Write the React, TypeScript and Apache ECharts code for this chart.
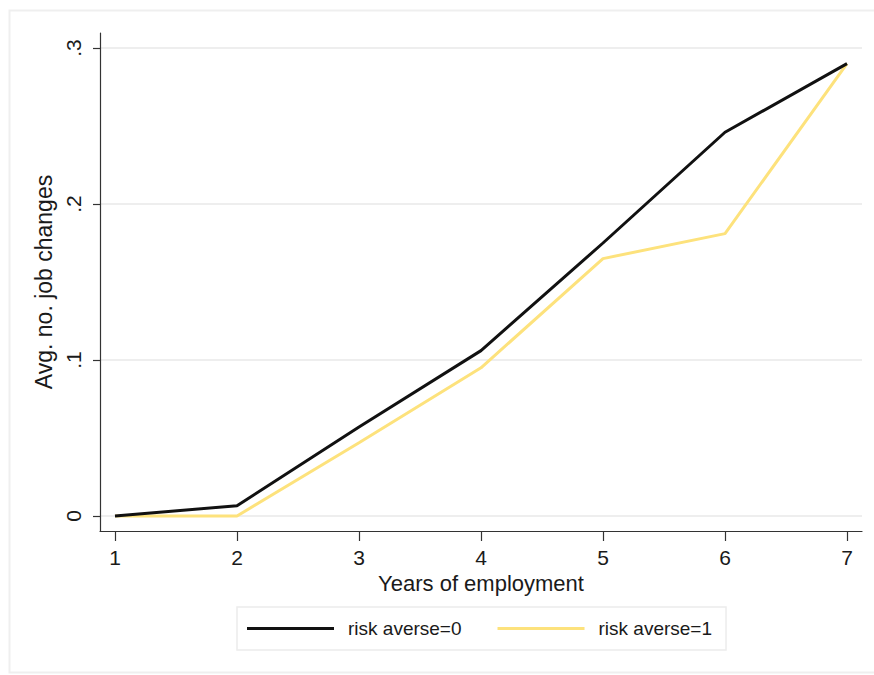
import React, { useEffect, useRef } from "react";
import * as echarts from "echarts";

const years = [1, 2, 3, 4, 5, 6, 7];
const riskAverse0 = [0, 0.0066, 0.057, 0.106, 0.175, 0.246, 0.29];
const riskAverse1 = [0, 0, 0.047, 0.095, 0.165, 0.181, 0.29];
const yTicks = [0, 0.1, 0.2, 0.3];
const xTicks = [1, 2, 3, 4, 5, 6, 7];
const seriesNames = ["risk averse=0", "risk averse=1"];

const FONT = "'Liberation Sans', Arial, sans-serif";

export default function App() {
  const ref = useRef<HTMLDivElement>(null);
  useEffect(() => {
    if (!ref.current) return;
    const chart = echarts.init(ref.current, undefined, { renderer: "svg" });
    const pair = (ys: number[]) => years.map((x, i) => [x, ys[i]]);
    chart.setOption({
      animation: false,
      backgroundColor: "#ffffff",
      textStyle: { fontFamily: FONT },
      graphic: [
        {
          type: "rect",
          shape: { x: 9.5, y: 10.5, width: 880, height: 662 },
          style: { fill: "none", stroke: "#efefef", lineWidth: 2 },
          silent: true,
          z: -10,
        },
      ],
      grid: { left: 100, right: 12, top: 33, bottom: 144, containLabel: false },
      xAxis: {
        type: "value",
        min: 1 - 15 / 122,
        max: 7 + 15 / 122,
        name: "Years of employment",
        nameLocation: "middle",
        nameGap: 40,
        nameTextStyle: { fontSize: 22, color: "#1a1a1a", fontFamily: FONT },
        axisLine: { onZero: false, lineStyle: { color: "#333", width: 1.2 } },
        axisTick: { show: true, length: 10, customValues: xTicks, lineStyle: { color: "#333", width: 1.2 } },
        axisLabel: { customValues: xTicks, fontSize: 21, color: "#1a1a1a", margin: 16, fontFamily: FONT },
        splitLine: { show: false },
      },
      yAxis: {
        type: "value",
        min: -15 / 1560,
        max: 0.3 + 15 / 1560,
        name: "Avg. no. job changes",
        nameLocation: "middle",
        nameGap: 44,
        nameRotate: 90,
        nameTextStyle: { fontSize: 23, color: "#1a1a1a", fontFamily: FONT },
        axisLine: { show: true, onZero: false, lineStyle: { color: "#333", width: 1.2 } },
        axisTick: { show: true, length: 7, customValues: yTicks, lineStyle: { color: "#333", width: 1.2 } },
        axisLabel: {
          customValues: yTicks,
          rotate: 90,
          fontSize: 21,
          color: "#1a1a1a",
          margin: 16,
          fontFamily: FONT,
          formatter: (v: number) => (v === 0 ? "0" : String(Math.round(v * 10) / 10).replace(/^0/, "")),
        },
        splitLine: { show: true, lineStyle: { color: "#e8e8e8", width: 1.5 } },
      },
      legend: {
        data: seriesNames,
        left: 237,
        top: 607,
        orient: "horizontal",
        icon: "rect",
        itemWidth: 87,
        itemHeight: 3,
        itemGap: 36,
        padding: [12, 14, 12, 10],
        borderColor: "#ececec",
        borderWidth: 1.5,
        textStyle: { fontSize: 19, color: "#1a1a1a", fontFamily: FONT, padding: [0, 0, 0, 9] },
      },
      series: [
        {
          name: seriesNames[0],
          type: "line",
          data: pair(riskAverse0),
          showSymbol: false,
          symbol: "none",
          color: "#111111",
          lineStyle: { color: "#111111", width: 3 },
          z: 3,
        },
        {
          name: seriesNames[1],
          type: "line",
          data: pair(riskAverse1),
          showSymbol: false,
          symbol: "none",
          color: "#fde27c",
          lineStyle: { color: "#fde27c", width: 3 },
          z: 2,
        },
      ],
    });
    return () => chart.dispose();
  }, []);
  return (
    <div
      ref={ref}
      style={{ position: "fixed", left: 0, top: 0, width: 874, height: 675 }}
    />
  );
}
